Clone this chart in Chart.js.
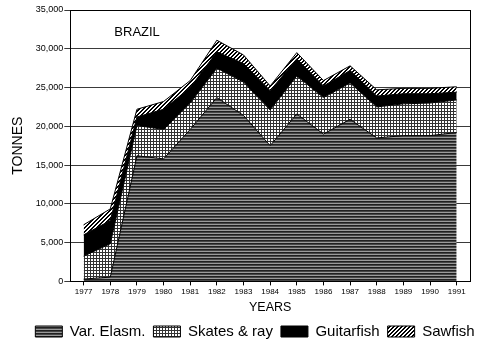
<!DOCTYPE html>
<html>
<head>
<meta charset="utf-8">
<script src="https://cdn.jsdelivr.net/npm/chart.js@4.4.0/dist/chart.umd.min.js"></script>
<style>
  html, body { margin: 0; padding: 0; background: #fff; }
</style>
</head>
<body>
<canvas id="catchChart" width="500" height="349"></canvas>
<script>
// Elasmobranch landings, Brazil (tonnes)
const years = [1977, 1978, 1979, 1980, 1981, 1982, 1983, 1984, 1985, 1986, 1987, 1988, 1989, 1990, 1991];
const varElasm = [300, 550, 16200, 15800, 19600, 23700, 21400, 17500, 21600, 19000, 20900, 18500, 18800, 18800, 19200];
const skatesRay = [2950, 4300, 3900, 3800, 3400, 3800, 4300, 4600, 4900, 4700, 4700, 4000, 4100, 4200, 4200];
const guitarfish = [2750, 3000, 1100, 2600, 2000, 2100, 2400, 2500, 2200, 1500, 1600, 1400, 1300, 1200, 1000];
const sawfish = [1300, 1500, 1000, 1000, 900, 1500, 1100, 600, 800, 700, 600, 800, 700, 700, 700];
const yTicks = [0, 5000, 10000, 15000, 20000, 25000, 30000, 35000];

const FONT = "'Liberation Sans', Arial, sans-serif";
const canvas = document.getElementById('catchChart');
const ctx = canvas.getContext('2d');

// small tiles used as fill patterns
function makePattern(w, h, draw) {
  const c = document.createElement('canvas');
  c.width = w;
  c.height = h;
  const g = c.getContext('2d');
  draw(g);
  return ctx.createPattern(c, 'repeat');
}

// dark horizontal lines
const stripePattern = makePattern(1, 3, g => {
  g.fillStyle = '#202020'; g.fillRect(0, 0, 1, 1);
  g.fillStyle = '#464646'; g.fillRect(0, 1, 1, 1);
  g.fillStyle = '#9a9a9a'; g.fillRect(0, 2, 1, 1);
});

// square grid
const gridPattern = makePattern(3, 3, g => {
  g.fillStyle = '#fff'; g.fillRect(0, 0, 3, 3);
  g.fillStyle = '#333'; g.fillRect(0, 0, 3, 1); g.fillRect(0, 0, 1, 3);
});

// diagonal hatching ///
const hatchPattern = makePattern(4, 4, g => {
  g.fillStyle = '#fff'; g.fillRect(0, 0, 4, 4);
  g.fillStyle = '#000';
  for (let i = 0; i < 4; i++) {
    g.fillRect(i, 3 - i, 1, 1);
    g.fillRect((i + 1) % 4, 3 - i, 1, 1);
  }
});

// box around the plot and the country label
const framePlugin = {
  id: 'frame',
  afterDraw(chart) {
    const { ctx, chartArea: a } = chart;
    ctx.save();
    ctx.strokeStyle = '#000';
    ctx.lineWidth = 1;
    ctx.strokeRect(Math.round(a.left) + 0.5, Math.round(a.top) + 0.5,
      Math.round(a.right - a.left), Math.round(a.bottom - a.top));
    ctx.fillStyle = '#000';
    ctx.font = '13px ' + FONT;
    ctx.textBaseline = 'alphabetic';
    ctx.fillText('BRAZIL', a.left + 44, a.top + 26);
    ctx.restore();
  }
};

function area(label, data, fill, pattern) {
  return {
    label: label,
    data: data,
    fill: fill,
    backgroundColor: pattern,
    borderColor: '#000',
    borderWidth: 1,
    pointRadius: 0,
    tension: 0
  };
}

new Chart(ctx, {
  type: 'line',
  data: {
    labels: years,
    datasets: [
      area('Var. Elasm.', varElasm, 'origin', stripePattern),
      area('Skates & ray', skatesRay, '-1', gridPattern),
      area('Guitarfish', guitarfish, '-1', '#000'),
      area('Sawfish', sawfish, '-1', hatchPattern)
    ]
  },
  options: {
    responsive: false,
    animation: false,
    layout: { padding: { top: 10, right: 0, left: 10, bottom: 0 } },
    plugins: {
      tooltip: { enabled: false },
      legend: {
        position: 'bottom',
        labels: {
          color: '#000',
          font: { family: FONT, size: 15 },
          boxWidth: 27,
          boxHeight: 11,
          padding: 8
        }
      }
    },
    scales: {
      x: {
        type: 'linear',
        min: 1976.5,
        max: 1991.5,
        afterBuildTicks: axis => { axis.ticks = years.map(v => ({ value: v })); },
        ticks: {
          color: '#000',
          font: { family: FONT, size: 8 },
          padding: 2,
          maxRotation: 0,
          autoSkip: false,
          callback: v => String(v)
        },
        grid: { display: true, drawOnChartArea: false, drawTicks: true, tickLength: 4, color: '#000' },
        border: { display: true, color: '#000', width: 1 },
        title: {
          display: true,
          text: 'YEARS',
          color: '#000',
          font: { family: FONT, size: 12.5 },
          padding: { top: 1, bottom: 1 }
        }
      },
      y: {
        stacked: true,
        min: 0,
        max: 35000,
        afterBuildTicks: axis => { axis.ticks = yTicks.map(v => ({ value: v })); },
        ticks: {
          color: '#000',
          font: { family: FONT, size: 9 },
          padding: 1,
          callback: v => v.toLocaleString('en-US')
        },
        grid: { color: '#3a3a3a', lineWidth: 1, tickLength: 6 },
        border: { display: true, color: '#000', width: 1 },
        title: {
          display: true,
          text: 'TONNES',
          color: '#000',
          font: { family: FONT, size: 14 },
          padding: { top: 0, bottom: 8 }
        }
      },
      // empty strip on the right of the plot
      yRight: {
        position: 'right',
        display: true,
        grid: { display: false },
        border: { display: false },
        ticks: { display: false },
        afterFit: axis => { axis.width = 30; }
      }
    }
  },
  plugins: [framePlugin]
});
</script>
</body>
</html>
